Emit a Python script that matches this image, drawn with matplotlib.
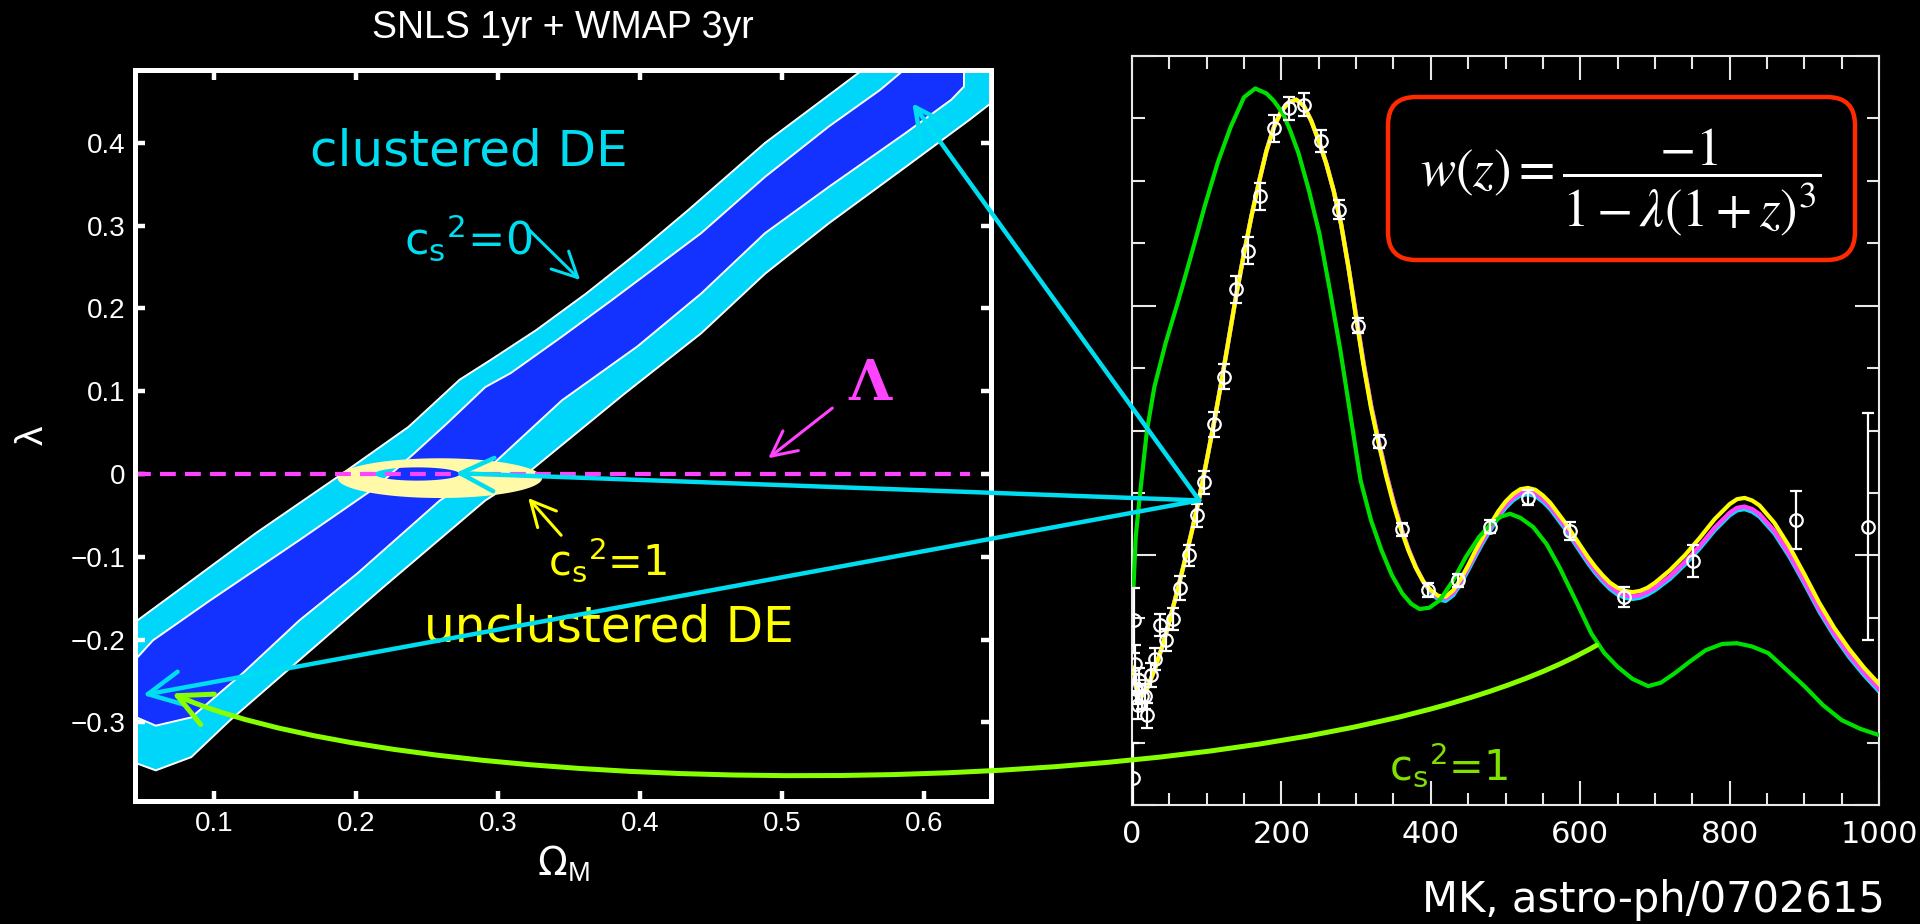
import numpy as np
import matplotlib
matplotlib.use("Agg")
import matplotlib.pyplot as plt
from matplotlib.patches import FancyBboxPatch, ConnectionPatch, FancyArrowPatch, PathPatch, ArrowStyle
from matplotlib.path import Path
from matplotlib.transforms import IdentityTransform
from matplotlib.ticker import MultipleLocator

# ---------------- left panel data (Omega_M, lambda) ----------------
OM_TICKS = [0.1, 0.2, 0.3, 0.4, 0.5, 0.6]
OM_LABELS = ["0.1", "0.2", "0.3", "0.4", "0.5", "0.6"]
LAM_TICKS = [-0.3, -0.2, -0.1, 0.0, 0.1, 0.2, 0.3, 0.4]
LAM_LABELS = ["\u22120.3", "\u22120.2", "\u22120.1", "0", "0.1", "0.2", "0.3", "0.4"]

# 95% region (clustered DE, c_s^2 = 0)
outer_om = [0.040, 0.046, 0.084, 0.129, 0.190, 0.237, 0.273, 0.295, 0.327, 0.362,
            0.398, 0.434, 0.488, 0.558, 0.650, 0.650, 0.632, 0.587, 0.533, 0.488,
            0.443, 0.389, 0.320, 0.291, 0.219, 0.160, 0.111, 0.084, 0.059, 0.040]
outer_lam = [-0.177, -0.177, -0.129, -0.072, 0.000, 0.057, 0.114, 0.138, 0.174, 0.218,
             0.267, 0.319, 0.400, 0.490, 0.490, 0.452, 0.428, 0.371, 0.303, 0.242,
             0.170, 0.097, 0.000, -0.032, -0.137, -0.225, -0.298, -0.342, -0.358, -0.346]
# 68% region
inner_om = [0.040, 0.040, 0.057, 0.097, 0.160, 0.214, 0.241, 0.264, 0.291, 0.309,
            0.345, 0.380, 0.443, 0.488, 0.533, 0.569, 0.587, 0.628, 0.628, 0.619,
            0.587, 0.533, 0.488, 0.443, 0.398, 0.345, 0.292, 0.259, 0.201, 0.160,
            0.120, 0.084, 0.059]
inner_lam = [-0.290, -0.233, -0.201, -0.153, -0.080, -0.016, 0.025, 0.061, 0.105, 0.122,
             0.166, 0.210, 0.291, 0.359, 0.420, 0.464, 0.490, 0.490, 0.468, 0.452,
             0.412, 0.347, 0.291, 0.218, 0.154, 0.089, 0.005, -0.032, -0.120, -0.177,
             -0.241, -0.294, -0.304]
# unclustered DE (c_s^2 = 1) contour: centre and semi-axes of outer / inner ellipse
unc_center = (0.259, -0.005)
unc_axes = (0.072, 0.024)
unc_hole_center = (0.243, 0.000)
unc_hole_axes = (0.030, 0.008)
LAMBDA_CDM = 0.0
lcdm_range = (0.0444, 0.632)

# ---------------- right panel data (l, l(l+1)C_l/2pi) ----------------
ell_th = [2, 5, 10, 15, 20, 30, 40, 50, 60, 70,
          80, 90, 100, 110, 120, 130, 140, 150, 160, 170,
          180, 190, 200, 210, 220, 230, 240, 250, 260, 270,
          280, 290, 300, 310, 320, 330, 340, 350, 360, 370,
          380, 390, 400, 410, 420, 430, 440, 450, 460, 470,
          480, 490, 500, 510, 520, 530, 540, 550, 560, 570,
          580, 590, 600, 610, 620, 630, 640, 650, 660, 670,
          680, 690, 700, 720, 740, 760, 780, 800, 810, 820,
          830, 840, 860, 880, 900, 920, 940, 960, 980, 1000]
cl_yellow = [1100, 950, 880, 880, 930, 1080, 1260, 1470, 1700, 1940,
             2190, 2460, 2760, 3070, 3400, 3750, 4100, 4420, 4720, 4990,
             5240, 5430, 5560, 5630, 5650, 5600, 5480, 5320, 5140, 4920,
             4650, 4300, 3900, 3520, 3180, 2900, 2640, 2410, 2210, 2040,
             1900, 1790, 1720, 1675, 1670, 1720, 1810, 1920, 2040, 2150,
             2250, 2350, 2430, 2490, 2530, 2540, 2525, 2480, 2420, 2340,
             2260, 2170, 2080, 1990, 1910, 1840, 1780, 1740, 1715, 1705,
             1715, 1740, 1780, 1880, 2000, 2140, 2290, 2410, 2450, 2460,
             2440, 2400, 2260, 2070, 1850, 1620, 1420, 1250, 1100, 970]
cl_magenta = [1100, 950, 880, 880, 930, 1080, 1260, 1470, 1700, 1940,
              2190, 2460, 2760, 3070, 3400, 3750, 4100, 4420, 4720, 4990,
              5240, 5430, 5560, 5630, 5650, 5600, 5480, 5320, 5140, 4920,
              4650, 4300, 3920, 3540, 3200, 2920, 2660, 2430, 2225, 2050,
              1905, 1790, 1715, 1665, 1655, 1700, 1790, 1900, 2015, 2125,
              2225, 2320, 2400, 2460, 2500, 2510, 2495, 2450, 2390, 2310,
              2230, 2140, 2050, 1960, 1880, 1810, 1750, 1705, 1680, 1670,
              1680, 1705, 1740, 1830, 1945, 2075, 2220, 2340, 2380, 2390,
              2370, 2330, 2195, 2010, 1795, 1570, 1375, 1205, 1060, 930]
cl_cyan = [1100, 950, 880, 880, 930, 1080, 1260, 1470, 1700, 1940,
           2190, 2460, 2760, 3070, 3400, 3750, 4100, 4420, 4720, 4990,
           5240, 5430, 5560, 5630, 5650, 5600, 5480, 5320, 5140, 4920,
           4650, 4300, 3920, 3540, 3200, 2920, 2660, 2430, 2225, 2050,
           1905, 1790, 1700, 1645, 1635, 1680, 1770, 1880, 1995, 2105,
           2205, 2300, 2380, 2440, 2480, 2490, 2475, 2430, 2370, 2290,
           2210, 2120, 2030, 1940, 1860, 1790, 1730, 1685, 1660, 1650,
           1660, 1685, 1720, 1810, 1925, 2055, 2200, 2320, 2360, 2370,
           2350, 2310, 2175, 1990, 1775, 1550, 1355, 1185, 1040, 910]
ell_green = [2, 5, 10, 20, 30, 45, 62, 80, 97, 115,
             132, 150, 165, 180, 190, 202, 212, 223, 237, 251,
             265, 279, 293, 306, 320, 334, 348, 362, 374, 385,
             398, 412, 430, 447, 465, 481, 494, 506, 520, 537,
             555, 572, 593, 615, 632, 650, 670, 691, 708, 726,
             747, 768, 790, 810, 830, 852, 875, 901, 925, 950,
             975, 1000]
cl_green = [1750, 2150, 2450, 3000, 3350, 3700, 4040, 4420, 4790, 5150,
            5430, 5670, 5740, 5700, 5640, 5540, 5400, 5220, 4920, 4573,
            4120, 3640, 3100, 2600, 2280, 2040, 1840, 1693, 1610, 1570,
            1580, 1640, 1800, 1987, 2150, 2253, 2310, 2333, 2300, 2227,
            2090, 1907, 1650, 1373, 1220, 1107, 1010, 952, 980, 1053,
            1150, 1240, 1290, 1296, 1270, 1216, 1090, 947, 800, 680,
            610, 560]
ell_obs = [2, 3, 4, 6, 8, 10, 13, 17, 20, 25,
           31, 38, 46, 55, 64, 76, 87, 97, 110, 123,
           139, 155, 171, 190, 210, 230, 253, 277, 303, 331,
           361, 396, 436, 479, 530, 587, 659, 751, 889, 985]
cl_obs = [220, 1480, 1130, 930, 800, 1000, 870, 870, 720, 1040,
          1170, 1440, 1320, 1490, 1740, 2000, 2320, 2585, 3050, 3430,
          4130, 4440, 4875, 5420, 5580, 5610, 5320, 4770, 3840, 2910,
          2210, 1725, 1800, 2230, 2460, 2195, 1667, 1952, 2285, 2230]
err_obs = [280, 260, 150, 120, 110, 100, 100, 100, 100, 95,
           90, 90, 90, 90, 95, 85, 95, 90, 100, 100,
           107, 107, 107, 107, 93, 93, 87, 73, 60, 53,
           53, 56, 53, 53, 60, 70, 83, 127, 231, 907]

# ---------------- figure ----------------
W, H = 1920, 924
fig = plt.figure(figsize=(W / 100, H / 100), dpi=100, facecolor="black")

ax1 = fig.add_axes([135 / W, 1 - 801 / H, 856 / W, 731 / H], facecolor="black")
ax2 = fig.add_axes([1132 / W, 1 - 805 / H, 747 / W, 749 / H], facecolor="black")

CYAN_L = "#00d6fa"
BLUE = "#1432ff"
PALE_Y = "#fff9a8"
MAG = "#ff44ff"
CYAN_A = "#00dcf0"
YEL = "#ffff00"
LIME = "#88ff00"

# ----- left panel -----
ax1.fill(outer_om, outer_lam, facecolor=CYAN_L, edgecolor="white", lw=1.4, zorder=1)
ax1.fill(inner_om, inner_lam, facecolor=BLUE, edgecolor="white", lw=1.4, zorder=2)

t = np.linspace(0, 2 * np.pi, 120)
ox = unc_center[0] + unc_axes[0] * np.cos(t)
oy = unc_center[1] + unc_axes[1] * np.sin(t)
ix = unc_hole_center[0] + unc_hole_axes[0] * np.cos(-t)
iy = unc_hole_center[1] + unc_hole_axes[1] * np.sin(-t)
verts = list(zip(ox, oy)) + list(zip(ix, iy))
codes = ([Path.MOVETO] + [Path.LINETO] * (len(t) - 2) + [Path.CLOSEPOLY]) * 2
ax1.add_patch(PathPatch(Path(verts, codes), facecolor=PALE_Y, edgecolor="none", zorder=3))

ax1.hlines(LAMBDA_CDM, lcdm_range[0], lcdm_range[1], colors=MAG, lw=3,
           linestyles=(0, (3.8, 2.2)), zorder=4)

ax1.set_xlim(0.0444, 0.647)
ax1.set_ylim(-0.395, 0.488)
ax1.set_xticks(OM_TICKS, OM_LABELS)
ax1.set_yticks(LAM_TICKS, LAM_LABELS)
ax1.tick_params(which="both", direction="in", top=True, right=True, length=7,
                width=3.2, color="white", labelcolor="white", labelsize=20, pad=7)
for lab in ax1.get_xticklabels() + ax1.get_yticklabels():
    lab.set_family("Liberation Sans")
for sp in ax1.spines.values():
    sp.set_color("white")
    sp.set_linewidth(3.6)
    sp.set_zorder(6)

ax1.set_xlabel(r"$\Omega_{\mathregular{M}}$", color="white", fontsize=28,
               fontfamily="Liberation Sans")
ax1.xaxis.set_label_coords(0.5, -0.058)
ax1.xaxis.label.set_va("top")
ax1.set_ylabel("\u03bb", color="white", fontsize=28, fontfamily="Liberation Sans")
ax1.yaxis.set_label_coords(-0.119, 0.5)
ax1.yaxis.label.set_va("center")

fig.text(563 / W, 1 - 38 / H, "SNLS 1yr + WMAP 3yr", color="white", fontsize=27,
         fontfamily="Liberation Sans", ha="center", va="baseline")

comic = "DejaVu Sans"
ax1.text(0.2796, 0.389, "clustered DE", color=CYAN_A, fontsize=36, family=comic,
         ha="center", va="center", zorder=7)
ax1.text(0.279, 0.285, r"c$_\mathregular{s}$$^\mathregular{2}$=0", color=CYAN_A, fontsize=32,
         family=comic, ha="center", va="center", zorder=7)
ax1.annotate("", xy=(0.3578, 0.2343), xytext=(0.3219, 0.2948),
             arrowprops=dict(arrowstyle=ArrowStyle("->", head_length=0.9, head_width=0.45),
                             color=CYAN_A, lw=2.2, mutation_scale=20, shrinkA=0, shrinkB=0), zorder=7)
ax1.text(0.562, 0.108, "\u039b", color=MAG, fontsize=40, family="DejaVu Serif",
         fontweight="bold", ha="center", va="center", zorder=7)
ax1.annotate("", xy=(0.4902, 0.019), xytext=(0.5353, 0.0796),
             arrowprops=dict(arrowstyle=ArrowStyle("->", head_length=0.9, head_width=0.45),
                             color=MAG, lw=2.2, mutation_scale=20, shrinkA=0, shrinkB=0), zorder=7)
ax1.text(0.377, -0.103, r"c$_\mathregular{s}$$^\mathregular{2}$=1", color=YEL, fontsize=30,
         family=comic, ha="center", va="center", zorder=7)
ax1.annotate("", xy=(0.3212, -0.029), xytext=(0.3444, -0.074),
             arrowprops=dict(arrowstyle=ArrowStyle("->", head_length=0.9, head_width=0.45),
                             color=YEL, lw=2.2, mutation_scale=20, shrinkA=0, shrinkB=0), zorder=7)
ax1.text(0.378, -0.185, "unclustered DE", color=YEL, fontsize=35, family=comic,
         ha="center", va="center", zorder=7)

# ----- right panel -----
ax2.plot(ell_th, cl_cyan, color="#00e0ff", lw=3.0, zorder=2)
ax2.plot(ell_th, cl_magenta, color="#ff40ff", lw=3.2, zorder=3)
ax2.plot(ell_th, cl_yellow, color=YEL, lw=3.0, zorder=4)
ax2.plot(ell_green, cl_green, color="#00e000", lw=3.0, zorder=4.5)
ax2.errorbar(ell_obs, cl_obs, yerr=err_obs, fmt="o", mfc="none", mec="white", ecolor="white",
             ms=9, mew=1.6, elinewidth=1.6, capsize=4.5, capthick=1.6, zorder=5)

ax2.set_xlim(0, 1000)
ax2.set_ylim(0, 6000)
ax2.xaxis.set_major_locator(MultipleLocator(200))
ax2.xaxis.set_minor_locator(MultipleLocator(50))
ax2.yaxis.set_major_locator(MultipleLocator(2000))
ax2.yaxis.set_minor_locator(MultipleLocator(500))
ax2.tick_params(which="both", direction="in", top=True, right=True, color="#e8e8e8",
                width=1.5, labelleft=False, labelcolor="white", labelsize=22, pad=11)
ax2.tick_params(which="major", length=17)
ax2.tick_params(which="minor", length=9)
for lab in ax2.get_xticklabels():
    lab.set_family(comic)
for sp in ax2.spines.values():
    sp.set_color("#e8e8e8")
    sp.set_linewidth(1.5)

ax2.text(424, 320, r"c$_\mathregular{s}$$^\mathregular{2}$=1", color="#80e000", fontsize=30,
         family=comic, ha="center", va="center", zorder=7)

# formula box
fig.add_artist(FancyBboxPatch((1388, H - 260), 467, 163,
                              boxstyle="round,pad=0,rounding_size=28",
                              facecolor="black", edgecolor="#ff2a00", lw=3.2,
                              transform=IdentityTransform(), zorder=8))
fig.text(1621 / W, 1 - 182 / H, r"$w(z)=\dfrac{-1}{1-\lambda(1+z)^3}$", color="white",
         fontsize=38, math_fontfamily="stix", ha="center", va="center", zorder=9)

fig.text(1885 / W, 1 - 900 / H, "MK, astro-ph/0702615", color="white", fontsize=30,
         family=comic, ha="right", va="center")

# ----- connecting arrows -----
src = (90, 2440)
targets = [(0.5916, 0.448), (0.270, 0.001), (0.050, -0.267)]
for tgt in targets:
    con = ConnectionPatch(xyA=src, coordsA="data", axesA=ax2,
                          xyB=tgt, coordsB="data", axesB=ax1,
                          arrowstyle=ArrowStyle("->", head_length=1.0, head_width=0.5),
                          mutation_scale=24, color=CYAN_A, lw=3.2,
                          shrinkA=0, shrinkB=0, zorder=10)
    con.set_clip_on(False)
    fig.add_artist(con)

to_fig = fig.transFigure.inverted()
p0 = to_fig.transform(ax2.transData.transform((622, 1280)))
p3 = to_fig.transform(ax1.transData.transform((0.0705, -0.265)))
p1 = (1300 / W, 1 - 815 / H)
p2 = (420 / W, 1 - 805 / H)
gpath = Path([p0, p1, p2, p3], [Path.MOVETO, Path.CURVE4, Path.CURVE4, Path.CURVE4])
garrow = FancyArrowPatch(path=gpath, arrowstyle=ArrowStyle("->", head_length=1.0, head_width=0.5),
                         mutation_scale=24, color=LIME, lw=3.6, transform=fig.transFigure,
                         zorder=10)
fig.add_artist(garrow)

fig.savefig("out.png", dpi=100, facecolor="black")
